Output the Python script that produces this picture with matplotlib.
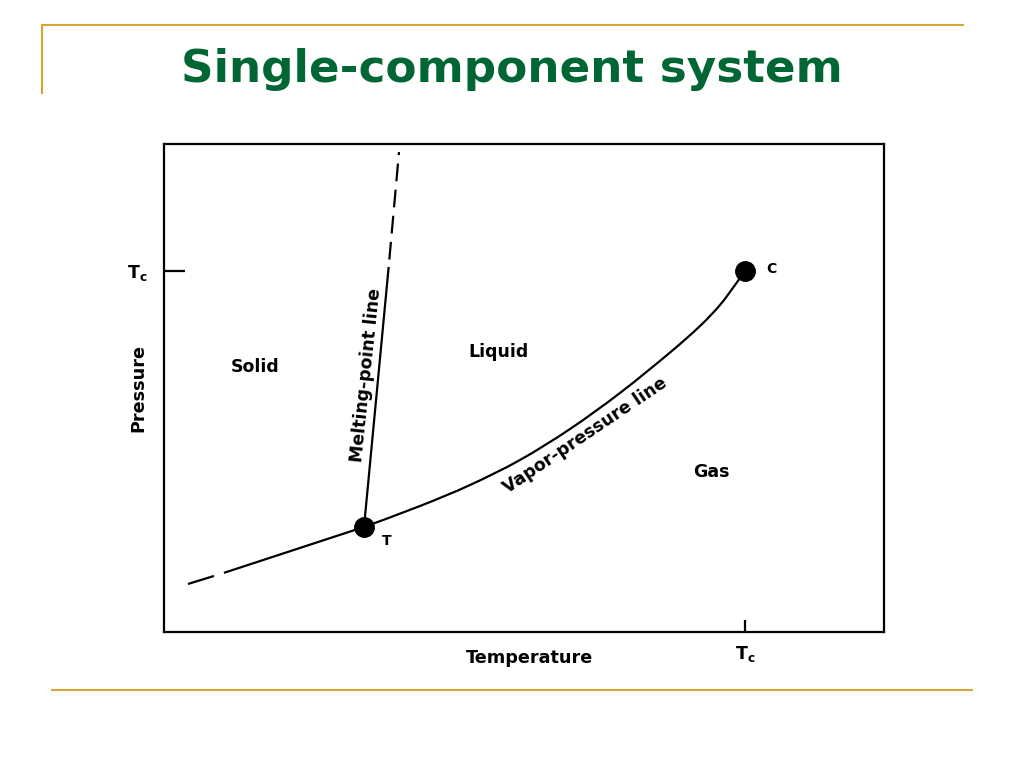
import matplotlib
matplotlib.use("Agg")
import matplotlib.pyplot as plt
from matplotlib.lines import Line2D
from matplotlib.path import Path
from matplotlib.patches import PathPatch

# ---- data (Temperature / Pressure in arbitrary units, 0-100) ----
sub_dash_T = [3.33, 6.94]
sub_dash_P = [9.84, 11.48]
sub_T = [8.47, 27.78]
sub_P = [12.19, 21.52]

vap_T = [27.78, 35.56, 42.50, 49.44, 56.39, 63.33, 70.28, 74.44, 77.22, 79.31, 80.69]
vap_P = [21.52, 25.82, 30.12, 35.25, 41.60, 48.98, 57.27, 62.70, 67.01, 71.11, 73.98]

melt_T = [27.78, 31.19]
melt_P = [21.52, 74.59]
melt_dash_T = [31.19, 32.64]
melt_dash_P = [74.59, 98.36]

triple = (27.78, 21.52)
critical = (80.69, 73.98)
Tc_T = 80.69
Tc_P = 73.98
tick_label = r'$\mathbf{T}_{\mathbf{c}}$'

region_labels = ["Solid", "Liquid", "Gas"]
region_T = [12.64, 46.39, 75.97]
region_P = [54.30, 57.38, 32.79]

GOLD = '#D4A531'
GREEN = '#006633'


def smooth_path(xs, ys):
    """Catmull-Rom through the points, drawn as cubic Bezier segments."""
    pts = list(zip(xs, ys))
    verts = [pts[0]]
    codes = [Path.MOVETO]
    n = len(pts)
    for i in range(n - 1):
        p0 = pts[i - 1] if i > 0 else pts[i]
        p1 = pts[i]
        p2 = pts[i + 1]
        p3 = pts[i + 2] if i + 2 < n else pts[i + 1]
        c1 = (p1[0] + (p2[0] - p0[0]) / 6, p1[1] + (p2[1] - p0[1]) / 6)
        c2 = (p2[0] - (p3[0] - p1[0]) / 6, p2[1] - (p3[1] - p1[1]) / 6)
        verts += [c1, c2, p2]
        codes += [Path.CURVE4] * 3
    return Path(verts, codes)


fig = plt.figure(figsize=(10.24, 7.68), dpi=100)
fig.patch.set_facecolor('white')

# decorative gold lines
fig.add_artist(Line2D([42/1024, 963/1024], [1-25/768, 1-25/768], color=GOLD, lw=1.5))
fig.add_artist(Line2D([42/1024, 42/1024], [1-25/768, 1-93/768], color=GOLD, lw=1.5))
fig.add_artist(Line2D([52/1024, 972/1024], [1-690/768, 1-690/768], color=GOLD, lw=1.5))

fig.text(0.5, 1-82/768, "Single-component system", ha='center', va='baseline',
         fontsize=32.6, fontweight='bold', color=GREEN, family='DejaVu Sans')

ax = fig.add_axes([164/1024, 136/768, 720/1024, 488/768])
ax.set_xlim(0, 100)
ax.set_ylim(0, 100)
for s in ax.spines.values():
    s.set_linewidth(1.6)
    s.set_color('black')

lw = 1.6
ax.plot(sub_dash_T, sub_dash_P, color='black', lw=lw, solid_capstyle='butt')
ax.plot(sub_T, sub_P, color='black', lw=lw)
ax.add_patch(PathPatch(smooth_path(vap_T, vap_P), fill=False, edgecolor='black', lw=lw))
ax.plot(melt_T, melt_P, color='black', lw=lw)
ax.plot(melt_dash_T, melt_dash_P, color='black', lw=lw, linestyle=(8.0, (8.0, 3.8)))

ax.plot(*triple, 'o', color='black', ms=14, zorder=5)
ax.plot(*critical, 'o', color='black', ms=14, zorder=5)

ax.set_xticks([Tc_T])
ax.set_xticklabels([tick_label])
ax.set_yticks([Tc_P])
ax.set_yticklabels([tick_label])
ax.tick_params(axis='x', direction='in', length=9, width=1.6, pad=9, labelsize=12.5)
ax.tick_params(axis='y', direction='in', length=15, width=1.6, pad=12, labelsize=12.5)

ax.set_xlabel("Temperature", fontsize=12.7, fontweight='bold')
ax.set_ylabel("Pressure", fontsize=12.7, fontweight='bold')
ax.xaxis.set_label_coords((529-164)/720, (632-649)/488)
ax.yaxis.set_label_coords((147-164)/720, 0.5)

for lab, t, p in zip(region_labels, region_T, region_P):
    ax.text(t, p, lab, ha='center', va='center', fontsize=12.5, fontweight='bold')

ax.text(critical[0] + 3.6, critical[1] + 0.4, "C", ha='center', va='center', fontsize=10, fontweight='bold')
ax.text(triple[0] + 3.2, triple[1] - 2.9, "T", ha='center', va='center', fontsize=10, fontweight='bold')

ax.text(28.06, 52.66, "Melting-point line", ha='center', va='center', rotation=84,
        fontsize=12.5, fontweight='bold', rotation_mode='anchor')
ax.text(58.5, 40.2, "Vapor-pressure line", ha='center', va='center', rotation=34,
        fontsize=12.5, fontweight='bold', rotation_mode='anchor')

fig.savefig("out.png", dpi=100, facecolor='white')
